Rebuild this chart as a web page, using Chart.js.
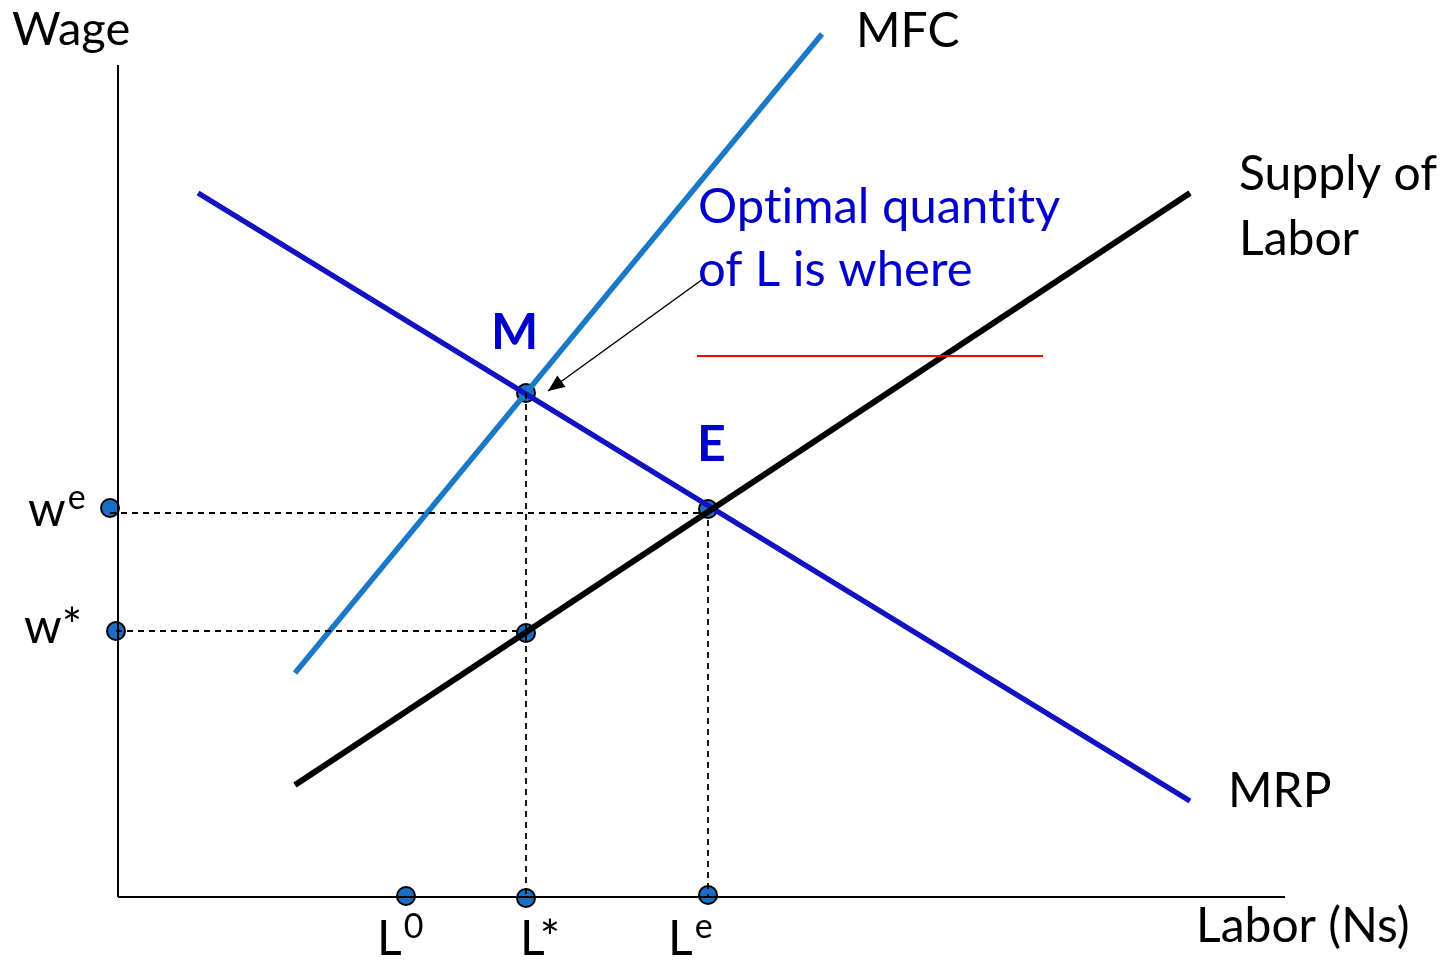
<!DOCTYPE html>
<html>
<head>
<meta charset="utf-8">
<script src="https://cdn.jsdelivr.net/npm/chart.js@4"></script>
<style>
  html, body { margin: 0; padding: 0; background: #fff; }
  #wrap { width: 1451px; height: 960px; }
</style>
</head>
<body>
<div id="wrap"><canvas id="chart"></canvas></div>
<script>
// DATA (labor on x, wage on y, origin at the axes corner)
const axisX = [[0, 0], [1167, 0]];
const axisY = [[0, 0], [0, 832]];
const mrp = [[80, 704], [1072, 96]];
const supply = [[177, 112], [1072, 704]];
const mfc = [[177, 224], [704, 863]];
const redLine = [[579, 541], [925, 541]];
const dashWe = [[-8, 384], [590, 384]];
const dashWstar = [[-2, 266], [408, 266]];
const dashLstar = [[408, 504], [408, 0]];
const dashLe = [[590, 388], [590, 0]];
const arrow = [[585, 618], [430, 506]];
const points = [[408, 504], [590, 388], [408, 264], [-8, 389], [-2, 266], [288, 1], [408, -1], [590, 2]];

const BLUE_TEXT = "#0000cc";
const FONT = "Lato, 'Open Sans', sans-serif";

// text labels: [text, superscript, x, y, color, bold, size]
const labels = [
    ["Wage", "", -106, 867, "#000", false, 47],
    ["MFC", "", 738, 865, "#000", false, 48],
    ["Supply of", "", 1121, 722, "#000", false, 48],
    ["Labor", "", 1121, 657, "#000", false, 48],
    ["MRP", "", 1110, 105, "#000", false, 48],
    ["Labor (Ns)", "", 1078, -30, "#000", false, 48],
    ["Opt\u200Cimal quant\u200Cit\u200Cy", "", 580, 690, BLUE_TEXT, false, 49],
    ["of L is where", "", 580, 627, BLUE_TEXT, false, 49],
    ["M", "", 373, 564, BLUE_TEXT, true, 50],
    ["E", "", 579, 452, BLUE_TEXT, true, 50],
    ["w", "e", -90, 386, "#000", false, 48],
    ["w*", "", -94, 269, "#000", false, 48],
    ["L", "0", 259, -43, "#000", false, 48],
    ["L*", "", 402, -43, "#000", false, 48],
    ["L", "e", 550, -43, "#000", false, 48]
];

function toXY(arr) {
    return arr.map(p => ({ x: p[0], y: p[1] }));
}

function lineSet(arr, color, width, dash) {
    return {
        data: toXY(arr),
        showLine: true,
        borderColor: color,
        borderWidth: width,
        borderDash: dash || [],
        pointRadius: 0,
        borderCapStyle: "butt",
        clip: false
    };
}

// text + arrowhead plugin
const extrasPlugin = {
    id: "extras",
    afterDatasetsDraw(chart) {
        const ctx = chart.ctx;
        const xs = chart.scales.x;
        const ys = chart.scales.y;

        // arrowhead at end of the pointer line
        const a0 = arrow[0], a1 = arrow[1];
        const x0 = xs.getPixelForValue(a0[0]), y0 = ys.getPixelForValue(a0[1]);
        const x1 = xs.getPixelForValue(a1[0]), y1 = ys.getPixelForValue(a1[1]);
        const ang = Math.atan2(y1 - y0, x1 - x0);
        const len = 18, half = 0.4;
        ctx.save();
        ctx.fillStyle = "#000";
        ctx.beginPath();
        ctx.moveTo(x1, y1);
        ctx.lineTo(x1 - len * Math.cos(ang - half), y1 - len * Math.sin(ang - half));
        ctx.lineTo(x1 - len * Math.cos(ang + half), y1 - len * Math.sin(ang + half));
        ctx.closePath();
        ctx.fill();

        ctx.textBaseline = "middle";
        ctx.textAlign = "left";
        labels.forEach(l => {
            const [text, sup, vx, vy, color, bold, size] = l;
            const px = xs.getPixelForValue(vx);
            const py = ys.getPixelForValue(vy);
            ctx.fillStyle = color;
            ctx.font = (bold ? "bold " : "") + size + "px " + FONT;
            ctx.fillText(text, px, py);
            if (sup) {
                const w = ctx.measureText(text).width;
                ctx.font = Math.round(size * 0.7) + "px " + FONT;
                ctx.fillText(sup, px + w + 2, py - size * 0.28);
            }
        });
        ctx.restore();
    }
};

const chart = new Chart(document.getElementById("chart"), {
    type: "scatter",
    data: {
        datasets: [
            lineSet(axisX, "#000", 2),
            lineSet(axisY, "#000", 2),
            lineSet(dashWe, "#000", 1.8, [6, 5]),
            lineSet(dashWstar, "#000", 1.8, [6, 5]),
            lineSet(dashLstar, "#000", 1.8, [6, 5]),
            lineSet(dashLe, "#000", 1.8, [6, 5]),
            lineSet(redLine, "#ff0000", 2),
            lineSet(arrow, "#000", 1.5),
            lineSet(supply, "#000", 6),
            lineSet(mrp, "#1212c2", 5.5),
            lineSet(mfc, "#1a78c8", 5.5),
            {
                data: toXY(points),
                pointRadius: 9,
                pointBackgroundColor: "#1a6fc4",
                pointBorderColor: "#000",
                pointBorderWidth: 2,
                clip: false
            }
        ]
    },
    options: {
        responsive: true,
        maintainAspectRatio: false,
        animation: false,
        events: [],
        layout: { padding: 0, autoPadding: false },
        plugins: { legend: { display: false }, tooltip: { enabled: false } },
        scales: {
            x: { type: "linear", min: -118, max: 1333, display: false },
            y: { type: "linear", min: -63, max: 897, display: false }
        }
    },
    plugins: [extrasPlugin]
});
</script>
</body>
</html>
